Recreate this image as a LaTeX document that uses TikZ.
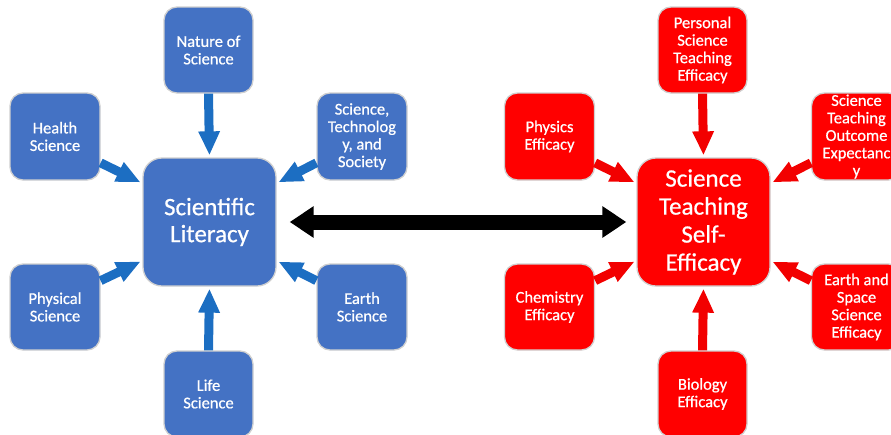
\documentclass[tikz,border=0pt]{standalone}
\usepackage{fontspec}
\setmainfont{Carlito}
\newfontfamily\boxfont{Carlito}[FakeBold=0.6]
\usetikzlibrary{arrows.meta}
\definecolor{boxblue}{HTML}{4472C4}
\definecolor{arrblue}{HTML}{1C6EC2}
\definecolor{boxred}{HTML}{FF0000}
\definecolor{arrred}{HTML}{F20000}
\definecolor{rimgray}{HTML}{D0D0D0}
\tikzset{
  smallbox/.style={draw=rimgray, line width=1.3pt, rounded corners=13pt,
    minimum width=89pt, minimum height=86pt, inner sep=0pt, align=center,
    text=white, font=\boxfont\fontsize{16.5}{17.5}\selectfont},
  bigbox/.style={draw=rimgray, line width=1.3pt, rounded corners=19pt,
    minimum width=133pt, minimum height=128pt, inner sep=0pt, align=center,
    text=white},
  bluebox/.style={smallbox, fill=boxblue},
  redbox/.style={smallbox, fill=boxred},
  barrow/.style={draw=arrblue, line width=9pt, -{Triangle[width=20pt,length=24pt]}, shorten >=2pt},
  rarrow/.style={draw=arrred, line width=9pt, -{Triangle[width=20pt,length=24pt]}, shorten >=2pt},
  karrow/.style={draw=black, line width=15pt,
    {Triangle[width=30pt,length=24pt]}-{Triangle[width=30pt,length=24pt]},
    shorten <=13pt, shorten >=10pt}
}
\begin{document}
\begin{tikzpicture}[x=1pt,y=-1pt]
\useasboundingbox (0,0) rectangle (891,434);
% left cluster
\node[bigbox, fill=boxblue, font=\boxfont\fontsize{25}{27}\selectfont] (sl) at (209.5,222) {Scientific\\Literacy};
\node[bluebox] (ns) at (208.5,50) {Nature of\\Science};
\node[bluebox, minimum width=90pt, minimum height=87pt] (hs) at (55,136.5) {Health\\Science};
\node[bluebox, minimum width=90pt, minimum height=87pt] (sts) at (362,136.5) {Science,\\Technolog\\y, and\\Society};
\node[bluebox, minimum width=90pt] (ps) at (55,307) {Physical\\Science};
\node[bluebox, minimum width=90pt] (es) at (362,307) {Earth\\Science};
\node[bluebox] (ls) at (208.5,394) {Life\\Science};
\draw[barrow] (ns.south) -- (sl.north);
\draw[barrow] (ls.north) -- (sl.south);
\draw[barrow] (hs.-30) -- (sl.150);
\draw[barrow] (ps.30) -- (sl.-150);
\draw[barrow] (sts.-150) -- (sl.30);
\draw[barrow] (es.150) -- (sl.-30);
% right cluster
\node[bigbox, fill=boxred, font=\boxfont\fontsize{25}{28}\selectfont] (st) at (703.5,222) {Science\\Teaching\\Self-\\Efficacy};
\node[redbox] (pe) at (702.5,50) {Personal\\Science\\Teaching\\Efficacy};
\node[redbox, minimum width=90pt, minimum height=87pt] (phy) at (549.5,136.5) {Physics\\Efficacy};
\node[redbox, minimum width=90pt, minimum height=87pt] (sto) at (856.5,136.5) {Science\\Teaching\\Outcome\\Expectanc\\y};
\node[redbox, minimum width=90pt] (che) at (549.5,307) {Chemistry\\Efficacy};
\node[redbox, minimum width=90pt] (ess) at (856.5,307) {Earth and\\Space\\Science\\Efficacy};
\node[redbox] (bio) at (702.5,394) {Biology\\Efficacy};
\draw[rarrow] (pe.south) -- (st.north);
\draw[rarrow] (bio.north) -- (st.south);
\draw[rarrow] (phy.-30) -- (st.150);
\draw[rarrow] (che.30) -- (st.-150);
\draw[rarrow] (sto.-150) -- (st.30);
\draw[rarrow] (ess.150) -- (st.-30);
% link
\draw[karrow] (sl.east) -- (st.west);
\end{tikzpicture}
\end{document}
